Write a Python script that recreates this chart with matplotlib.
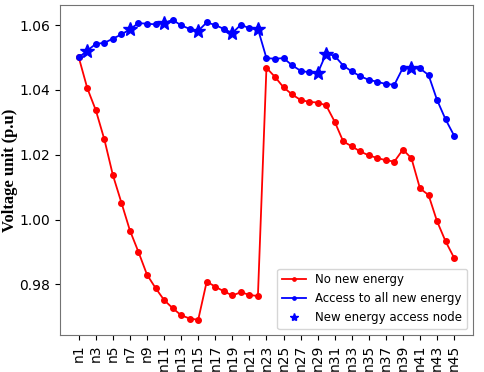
import numpy as np
import matplotlib
matplotlib.use("Agg")
import matplotlib.pyplot as plt

# node labels n1..n45
nodes = ["n%d" % i for i in range(1, 46)]

no_new = [1.0500, 1.0405, 1.0337, 1.0247, 1.0137, 1.0052, 0.9966, 0.9900, 0.9830,
          0.9789, 0.9752, 0.9727, 0.9705, 0.9695, 0.9691, 0.9809, 0.9793, 0.9779,
          0.9766, 0.9776, 0.9768, 0.9764, 1.0468, 1.0440, 1.0408, 1.0386, 1.0369,
          1.0363, 1.0361, 1.0352, 1.0302, 1.0241, 1.0226, 1.0210, 1.0198, 1.0190,
          1.0183, 1.0179, 1.0216, 1.0189, 1.0096, 1.0076, 0.9995, 0.9933, 0.9882]

all_new = [1.0500, 1.0521, 1.0542, 1.0545, 1.0558, 1.0571, 1.0587, 1.0606, 1.0604,
           1.0602, 1.0606, 1.0616, 1.0599, 1.0588, 1.0582, 1.0608, 1.0600, 1.0588,
           1.0575, 1.0601, 1.0590, 1.0588, 1.0498, 1.0496, 1.0498, 1.0476, 1.0459,
           1.0454, 1.0451, 1.0512, 1.0505, 1.0475, 1.0457, 1.0442, 1.0431, 1.0425,
           1.0418, 1.0416, 1.0468, 1.0466, 1.0466, 1.0446, 1.0369, 1.0309, 1.0259]

# nodes where new energy is connected
access_nodes = ["n2", "n7", "n11", "n15", "n19", "n22", "n29", "n30", "n40"]

x = np.arange(len(nodes))
idx = [nodes.index(n) for n in access_nodes]

fig, ax = plt.subplots(figsize=(4.84, 3.72), dpi=100)
fig.subplots_adjust(left=0.124, right=0.977, top=0.987, bottom=0.1)

ax.plot(x, no_new, color="red", marker="o", markersize=4, linewidth=1.3,
        label="No new energy")
ax.plot(x, all_new, color="blue", marker="o", markersize=4, linewidth=1.3,
        label="Access to all new energy")
ax.plot(x[idx], np.array(all_new)[idx], linestyle="none", marker="*",
        markersize=10, color="blue", label="New energy access node")

ax.set_xticks(x[::2])
ax.set_xticklabels(nodes[::2], rotation=90, fontsize=10)
ax.tick_params(axis="y", labelsize=10)
ax.set_ylabel("Voltage unit (p.u)", fontsize=12, fontweight="bold",
              family="Liberation Serif", labelpad=1)
for s in ax.spines.values():
    s.set_color("0.45")

ax.legend(loc="lower right", fontsize=8.5, markerscale=0.6)

fig.savefig("out.png", dpi=100)
